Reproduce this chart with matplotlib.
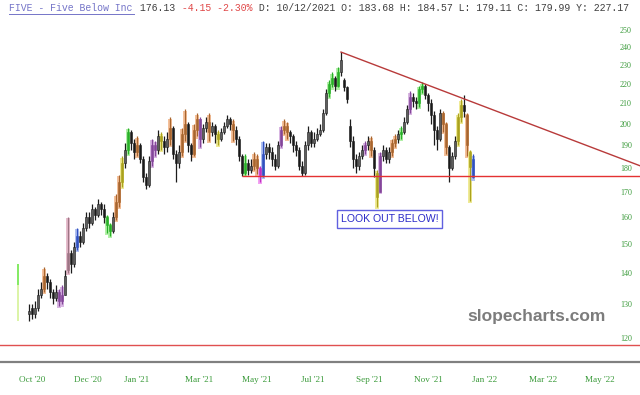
import matplotlib
matplotlib.use("Agg")
import matplotlib.pyplot as plt
from matplotlib.lines import Line2D
from matplotlib.ticker import NullLocator, FixedLocator, FixedFormatter
import numpy as np

# ---------------- data ----------------
opens = [127, 129, 127, 129, 133, 135, 139, 137, 134, 132,
         134, 131, 133, 141, 147, 143, 149, 153, 151, 156,
         160, 158, 163, 161, 165, 163, 160, 157, 155, 160,
         166, 174, 182, 188, 196, 191, 187, 190, 184, 176,
         173, 183, 190, 188, 194, 192, 189, 193, 198, 186,
         182, 187, 195, 200, 190, 186, 197, 202, 193, 198,
         201, 196, 199, 195, 193, 196, 199, 202, 200, 197,
         193, 185, 178, 182, 179, 181, 184, 180, 177, 186,
         189, 187, 184, 181, 190, 197, 199, 196, 194, 190,
         188, 181, 178, 190, 196, 191, 193, 195, 197, 205,
         215, 220, 223, 219, 226, 222, 218, 199, 192, 184,
         181, 185, 188, 190, 192, 188, 178, 170, 185, 188,
         184, 187, 191, 193, 195, 196, 201, 207, 213, 211,
         210, 217, 219, 214, 210, 204, 197, 193, 205, 200,
         189, 180, 185, 192, 203, 209, 204, 187, 183.68]
highs = [130, 130, 131, 135, 137, 142, 140, 138, 135, 136,
         135, 136, 141, 160, 148, 151, 156, 155, 158, 162,
         162, 165, 164, 167, 166, 165, 161, 158, 162, 169,
         177, 185, 191, 198, 197, 193, 194, 191, 185, 178,
         185, 193, 192, 197, 196, 194, 196, 203, 199, 188,
         190, 198, 207, 201, 191, 200, 205, 203, 200, 203,
         205, 201, 200, 197, 198, 201, 204, 203, 202, 199,
         194, 186, 186, 184, 184, 187, 186, 181, 192, 191,
         191, 189, 186, 192, 199, 202, 201, 197, 195, 192,
         189, 183, 192, 199, 197, 196, 198, 200, 207, 217,
         222, 226, 224, 229, 237, 223, 219, 202, 194, 186,
         187, 190, 192, 194, 194, 189, 179, 187, 190, 189,
         189, 193, 195, 197, 199, 203, 209, 216, 215, 213,
         219, 221, 220, 215, 212, 206, 199, 207, 206, 201,
         190, 187, 194, 205, 212, 214, 205, 188, 186]
lows = [125, 125.5, 126, 128, 132, 134, 135, 132, 130, 131,
        129.5, 130, 133, 140, 140, 142, 148, 149, 150, 155,
        156, 157, 159, 160, 161, 158, 154, 153, 154, 159,
        164, 172, 180, 186, 188, 184, 185, 182, 174, 171,
        172, 181, 185, 186, 188, 186, 187, 190, 184, 174,
        180, 185, 192, 187, 183, 185, 194, 189, 191, 196,
        192, 194, 191, 190, 192, 195, 198, 197, 192, 190,
        183, 176.5, 177, 177, 178, 179, 177.5, 174, 176, 184,
        184, 181, 179, 180, 189, 195, 193, 191, 187, 185,
        179, 176.5, 177, 188, 189, 189, 192, 194, 196, 204,
        213, 218, 216, 218, 224, 216, 210, 189, 180, 178,
        179, 184, 186, 188, 185, 176, 164, 170, 183, 182,
        182, 185, 189, 191, 193, 195, 200, 205, 208, 207,
        208, 215, 212, 206, 200, 190, 188, 192, 196, 186,
        174, 179, 184, 190, 201, 203, 185, 166.5, 175.5]
closes = [128, 127, 129, 133, 135, 139, 137, 134, 132, 134,
          131, 133, 139, 147, 143, 149, 153, 151, 156, 160,
          158, 163, 161, 165, 163, 160, 157, 155, 160, 166,
          174, 182, 188, 196, 191, 187, 190, 184, 176, 173,
          183, 190, 188, 194, 192, 189, 193, 198, 186, 182,
          187, 195, 200, 190, 186, 197, 202, 193, 198, 201,
          196, 199, 195, 193, 196, 199, 202, 200, 197, 193,
          185, 178, 182, 179, 181, 184, 180, 177, 186, 189,
          187, 184, 181, 190, 197, 199, 196, 194, 190, 188,
          181, 178, 190, 196, 191, 193, 195, 197, 205, 215,
          220, 223, 219, 226, 233, 218, 212, 192, 184, 181,
          185, 188, 190, 192, 188, 180, 168, 185, 188, 184,
          187, 191, 193, 195, 196, 201, 207, 213, 211, 210,
          217, 219, 214, 210, 204, 197, 193, 205, 200, 189,
          180, 185, 192, 203, 209, 206, 190, 180.28, 176.13]

# highlighted (pattern) bars: index -> colour code
highlights = {5: 'o', 10: 'p', 11: 'p', 13: 'k', 16: 'b', 26: 'g', 27: 'g',
              29: 'o', 30: 'o', 31: 'y', 33: 'g', 36: 'o', 41: 'p', 42: 'p',
              44: 'y', 47: 'o', 51: 'o', 52: 'o', 55: 'o', 56: 'o', 57: 'p',
              60: 'o', 63: 'y', 68: 'o', 72: 'g', 75: 'o', 76: 'o', 77: 'm',
              78: 'b', 84: 'p', 85: 'o', 86: 'o', 100: 'g', 101: 'g', 103: 'g',
              112: 'p', 114: 'o', 116: 'y', 117: 'p', 121: 'o', 122: 'o',
              124: 'g', 127: 'p', 130: 'g', 131: 'g', 138: 'o', 139: 'o',
              143: 'y', 144: 'y', 146: 'o', 147: 'y', 148: 'b'}

# early marker bar (left of the series)
marker_levels = [125, 136, 143]

support_level = 176.5
support_start = 71
trend_x = [104, 203.67]
trend_y = [237.2, 180.9]
bottom_level = 118.0

y_ticks = [120, 130, 140, 150, 160, 170, 180, 190, 200, 210, 220, 230, 240, 250]
x_tick_pos = [1.2, 19.7, 36.0, 56.7, 76.0, 94.5, 113.3, 133.3, 151.8, 171.3, 190.3]
x_tick_labels = ["Oct '20", "Dec '20", "Jan '21", "Mar '21", "May '21", "Jul '21",
                 "Sep '21", "Nov '21", "Jan '22", "Mar '22", "May '22"]

header_parts = [("FIVE - Five Below Inc", '#7474c8'), (" 176.13", '#404040'),
                (" -4.15 -2.30%", '#e04848'),
                (" D: 10/12/2021 O: 183.68 H: 184.57 L: 179.11 C: 179.99 Y: 227.17", '#404040')]

# ---------------- styling ----------------
halo = {'o': '#f4c09a', 'p': '#d8b6e2', 'g': '#b2f0a8', 'y': '#efea96',
        'b': '#b0c0f0', 'm': '#f2a2f2', 'k': '#e6bccc'}
dark = {'o': '#a8652e', 'p': '#84469a', 'g': '#28b028', 'y': '#aaa21e',
        'b': '#3050c0', 'm': '#c030c0', 'k': '#9c7484'}

fig = plt.figure(figsize=(6.4, 3.95), dpi=100)
ax = fig.add_axes([0, 33 / 395, 1, 344 / 395])
ax.set_yscale('log')
ax.set_xlim(-29 / 3, 611 / 3)
ax.set_ylim(113.33, 257.26)

x = np.arange(len(closes))
o = np.array(opens, float)
h = np.array(highs, float)
l = np.array(lows, float)
c = np.array(closes, float)

# halos behind highlighted bars
for i, code in highlights.items():
    ax.bar(i, (h[i] - l[i]) * 1.02, bottom=l[i] * 0.995, width=1.35, color=halo[code],
           linewidth=0, zorder=1)

wick_cols = [dark[highlights[i]] if i in highlights else '#1c1c1c' for i in x]
ax.vlines(x, l, h, colors=wick_cols, linewidth=0.9, zorder=2)

body_bot = np.minimum(o, c)
body_h = np.maximum(np.abs(c - o), 0.4)
face = []
for i in x:
    if i in highlights:
        face.append(dark[highlights[i]])
    else:
        face.append('#5e5e5e' if c[i] >= o[i] else '#1a1a1a')
ax.bar(x, body_h, bottom=body_bot, width=0.7, color=face,
       edgecolor=wick_cols, linewidth=0.4, zorder=3)

# early marker bar
ax.bar(-3.7, marker_levels[1] - marker_levels[0], bottom=marker_levels[0], width=0.8,
       color='#dcf4a8', linewidth=0, zorder=2)
ax.bar(-3.7, marker_levels[2] - marker_levels[1], bottom=marker_levels[1], width=0.8,
       color='#86ea66', linewidth=0, zorder=2)

# lines
ax.hlines(support_level, support_start, 203.67, colors='#e43232', linewidth=1.0, zorder=4)
ax.plot(trend_x, trend_y, color='#b83a3a', linewidth=1.0, zorder=4)
ax.axhline(bottom_level, color='#e05050', linewidth=1.0, zorder=4)

# annotation
ax.text(120.3, 159.3, "LOOK OUT BELOW!", ha='center', va='center', color='#2a2ac8',
        fontsize=7.6, family='Liberation Sans',
        bbox=dict(boxstyle='square,pad=0.35', facecolor='white', edgecolor='#6060e0',
                  linewidth=1.0), zorder=5)

# axes styling
for s in ['top', 'left', 'right']:
    ax.spines[s].set_visible(False)
ax.spines['bottom'].set_color('#808080')
ax.spines['bottom'].set_linewidth(1.6)

ax.yaxis.set_minor_locator(NullLocator())
ax.yaxis.tick_right()
ax.yaxis.set_major_locator(FixedLocator(y_ticks))
ax.yaxis.set_major_formatter(FixedFormatter([str(v) for v in y_ticks]))
ax.tick_params(axis='y', length=0, pad=-14.5, labelsize=5.8, labelcolor='#3a9a3a')
for t in ax.get_yticklabels():
    t.set_family('Liberation Serif')
ax.set_xticks(x_tick_pos)
ax.set_xticklabels(x_tick_labels)
ax.tick_params(axis='x', length=0, pad=10, labelsize=6.6, labelcolor='#3a9a3a')
for t in ax.get_xticklabels():
    t.set_family('Liberation Serif')

# header
cw = 5.96 / 640
xpos = 9 / 640
for txt, col in header_parts:
    fig.text(xpos, (395 - 8) / 395, txt, color=col, fontsize=7.15,
             family='Liberation Mono', va='center', ha='left')
    xpos += len(txt) * cw
fig.add_artist(Line2D([9 / 640, (9 + 21 * 5.96) / 640], [(395 - 13.5) / 395] * 2,
                      color='#7474c8', linewidth=0.7))

# watermark
fig.text(537 / 640, (395 - 316) / 395, "slopecharts.com", ha='center', va='center',
         color='#7c7c7c', fontsize=12.5, fontweight='bold', family='Liberation Sans')

fig.savefig("out.png", dpi=100)
